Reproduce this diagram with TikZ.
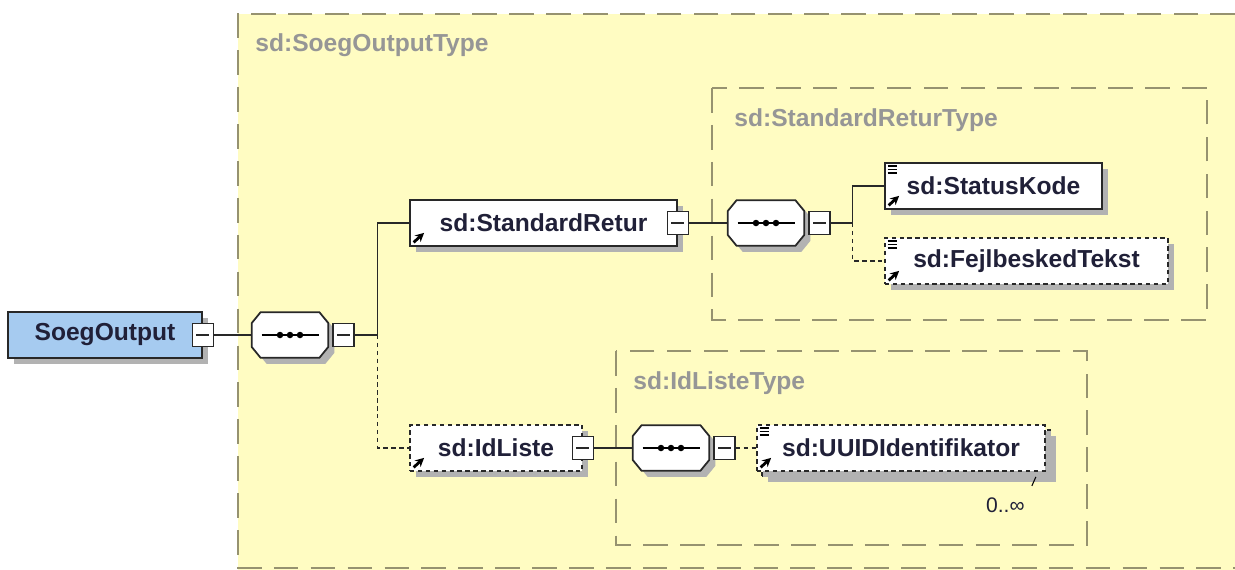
\documentclass[tikz,border=0pt]{standalone}
\usepackage{fontspec}
\setmainfont{Liberation Sans}
\usetikzlibrary{arrows, arrows.meta, positioning, shadows}

\definecolor{yellowbg}{RGB}{255,252,194}
\definecolor{framegray}{RGB}{150,146,112}
\definecolor{labelgray}{RGB}{150,150,150}
\definecolor{rootblue}{RGB}{166,203,240}
\definecolor{textdark}{RGB}{32,32,56}
\definecolor{linedark}{RGB}{40,40,40}

\tikzset{
	boxshadow/.style={drop shadow={shadow xshift=0.12cm, shadow yshift=-0.12cm, fill=black!30, opacity=1}},
	elem/.style={rectangle, draw=linedark, line width=1pt, fill=white, minimum height=0.92cm, inner sep=0pt, text=textdark, font=\fontsize{14}{16}\selectfont\bfseries, boxshadow},
	optional/.style={dash pattern=on 2.5pt off 2pt},
	seqbox/.style={rectangle, minimum width=1.52cm, minimum height=0.9cm, inner sep=0pt},
	seqline/.style={draw=linedark, line width=1pt, fill=white, boxshadow},
	minus/.style={rectangle, draw=linedark, line width=0.8pt, fill=white, minimum width=0.42cm, minimum height=0.46cm, inner sep=0pt,
		path picture={\draw[line width=0.6pt] ([xshift=0.08cm]path picture bounding box.west) -- ([xshift=-0.08cm]path picture bounding box.east);}},
	refarrow/.style={-{Stealth[length=5pt, width=5pt]}, line width=1.6pt},
	typeframe/.style={draw=framegray, line width=1.1pt, dash pattern=on 14pt off 7pt},
	typelabel/.style={anchor=west, inner sep=0pt, text=labelgray, font=\fontsize{14}{16}\selectfont\bfseries},
	conn/.style={draw=linedark, line width=0.8pt}
}

\begin{document}
\begin{tikzpicture}[>=stealth', node distance=1cm, on grid]

	\useasboundingbox (0,0) rectangle (24.7,-11.4);

	% type frames
	\fill[yellowbg] (4.76,-0.28) rectangle (24.7,-11.4);
	\draw[typeframe] (24.7,-0.28) -- (4.76,-0.28) -- (4.76,-11.36) -- (24.7,-11.36);
	\draw[typeframe] (14.24,-1.76) rectangle (24.14,-6.40);
	\draw[typeframe] (12.32,-7.02) rectangle (21.74,-10.90);

	\node[typelabel] (lblOuter) at (5.10,-0.90) 	{sd:SoegOutputType};
	\node[typelabel] (lblStd) 	at (14.68,-2.40) 	{sd:StandardReturType};
	\node[typelabel] (lblId) 	at (12.66,-7.66) 	{sd:IdListeType};

	% elements
	\node[elem, fill=rootblue, minimum width=3.88cm] (SoegOutput) at (2.10,-6.70) 			{SoegOutput};
	\node[seqbox] (seq1) 		[right=3.7cm of SoegOutput] 						{};
	\node[elem, minimum width=5.34cm] (StandardRetur) 	[above right=2.24cm and 5.07cm of seq1] 	{sd:StandardRetur};
	\node[elem, optional, minimum width=3.44cm] (IdListe) 	[below right=2.26cm and 4.12cm of seq1] 	{sd:IdListe};

	\node[seqbox] (seq2) 		[right=4.45cm of StandardRetur] 					{};
	\node[elem, minimum width=4.34cm] (StatusKode) 	[above right=0.74cm and 4.55cm of seq2] 	{sd:StatusKode\hspace{0.2cm}};
	\node[elem, optional, minimum width=5.66cm] (Fejl) 	[below right=0.76cm and 5.21cm of seq2] 	{sd:FejlbeskedTekst};

	\node[seqbox] (seq3) 		[right=3.5cm of IdListe] 						{};
	\node[elem, optional, minimum width=5.76cm] (UUIDback) 	[below right=0.1cm and 4.7cm of seq3] 	{};
	\node[elem, optional, minimum width=5.76cm] (UUID) 	[right=4.6cm of seq3] 				{sd:UUIDIdentifikator\hspace{0.2cm}};
	\node[inner sep=0pt, text=textdark, font=\fontsize{12}{14}\selectfont] (occ) [below left=0.52cm and 0.42cm of UUID.south east] 	{0..∞};

	% sequence compositors
	\foreach \s in {seq1,seq2,seq3} {
		\draw[seqline] ([xshift=0.18cm]\s.north west) -- ([xshift=-0.18cm]\s.north east) -- ([yshift=-0.22cm]\s.north east)
			-- ([yshift=0.22cm]\s.south east) -- ([xshift=-0.18cm]\s.south east) -- ([xshift=0.18cm]\s.south west)
			-- ([yshift=0.22cm]\s.south west) -- ([yshift=-0.22cm]\s.north west) -- cycle;
		\draw[line width=0.8pt] ([xshift=-0.57cm]\s.center) -- ([xshift=0.57cm]\s.center);
		\foreach \d in {-0.2,0,0.2}
			\fill ([xshift=\d cm]\s.center) circle (0.065);
	}

	% minus boxes
	\node[minus] (mSoeg) 	at (SoegOutput.east) 		{};
	\node[minus] (mStd) 	at (StandardRetur.east) 	{};
	\node[minus] (mId) 	at (IdListe.east) 		{};
	\node[minus] (m1) 	[right=0.08cm of seq1.east] 	{};
	\node[minus] (m2) 	[right=0.08cm of seq2.east] 	{};
	\node[minus] (m3) 	[right=0.08cm of seq3.east] 	{};

	\coordinate[right=0.46cm of m1.east] (b1);
	\coordinate[right=0.44cm of m2.east] (b2);

	% reference arrows and simple type marks
	\foreach \e in {StandardRetur,IdListe,StatusKode,Fejl,UUID}
		\draw[refarrow] ([shift={(0.09,0.09)}]\e.south west) -- ([shift={(0.3,0.28)}]\e.south west);
	\foreach \e in {StatusKode,Fejl,UUID}
		\foreach \i in {0,1,2}
			\draw[line width=0.8pt] ([shift={(0.07,-0.08-0.07*\i)}]\e.north west) -- ([shift={(0.25,-0.08-0.07*\i)}]\e.north west);
	\draw[line width=0.6pt] ([shift={(-0.30,0)}]UUIDback.south east) -- ++(-0.08,-0.18);

	% connectors
	\draw[conn] (mSoeg) -- (seq1);
	\draw[conn] (m1) -- (b1) |- (StandardRetur);
	\draw[conn, optional] (b1) |- (IdListe);
	\draw[conn] (mStd) -- (seq2);
	\draw[conn] (m2) -- (b2) |- (StatusKode);
	\draw[conn, optional] (b2) |- (Fejl);
	\draw[conn] (mId) -- (seq3);
	\draw[conn, optional] (m3) -- (UUID);

\end{tikzpicture}
\end{document}
